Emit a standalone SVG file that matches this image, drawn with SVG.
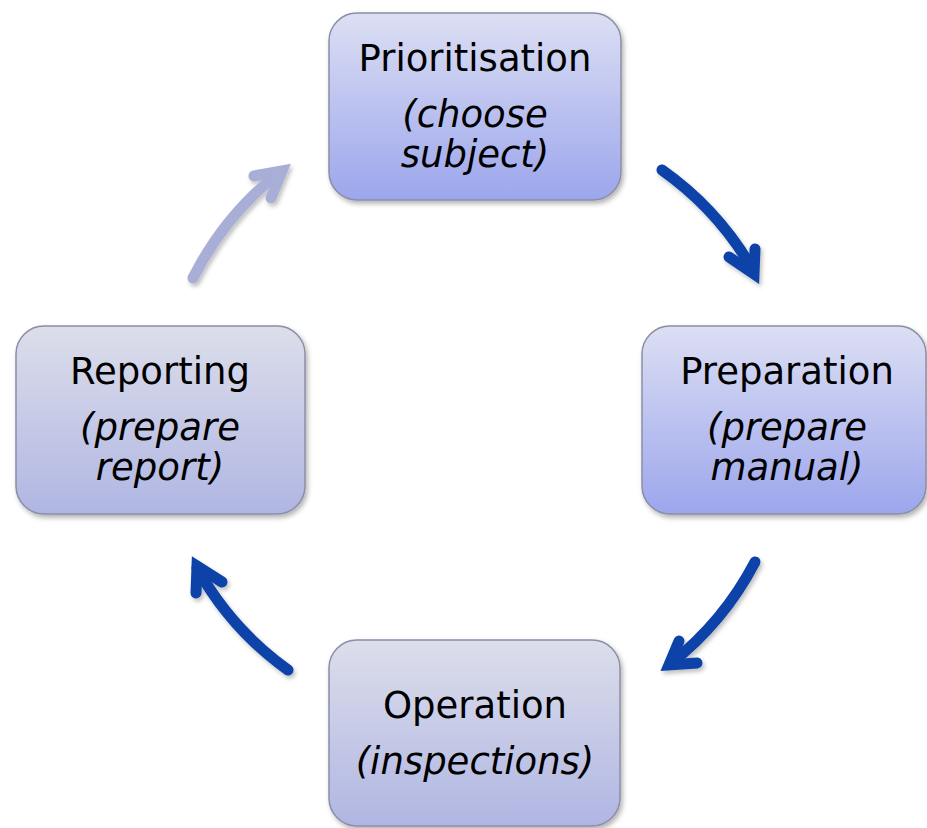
<svg xmlns="http://www.w3.org/2000/svg" width="927" height="828" viewBox="0 0 927 828">
<defs>
<linearGradient id="gBlue" x1="0" y1="0" x2="0" y2="1">
<stop offset="0" stop-color="#dcdff3"/>
<stop offset="1" stop-color="#9ca6ec"/>
</linearGradient>
<linearGradient id="gGrey" x1="0" y1="0" x2="0" y2="1">
<stop offset="0" stop-color="#dcdeea"/>
<stop offset="1" stop-color="#b0b6e3"/>
</linearGradient>
<filter id="sh" x="-10%" y="-10%" width="125%" height="125%">
<feDropShadow dx="2" dy="3" stdDeviation="2.5" flood-color="#000" flood-opacity="0.3"/>
</filter>
<filter id="ash" x="-20%" y="-20%" width="150%" height="150%">
<feDropShadow dx="2" dy="3" stdDeviation="2" flood-color="#000" flood-opacity="0.25"/>
</filter>
</defs>
<style>
.box{stroke:#8a8ea6;stroke-width:1.5;filter:url(#sh)}
.t{font-family:"DejaVu Sans","Verdana",sans-serif;font-size:37px;fill:#000;text-anchor:middle}
.i{font-style:italic}
.arr{fill:none;stroke-width:11;stroke-linecap:round;stroke-linejoin:miter;filter:url(#ash)}
.dark{stroke:#0b42a8}
.light{stroke:#a8aed6}
</style>
<rect width="927" height="828" fill="#fff"/>
<g id="connectors">
<g class="arr dark">
<path d="M662,170 A313,313 0 0 1 753,270"/>
<path d="M729,257 L754,274 L755,249"/>
</g>
<g class="arr dark">
<path d="M755,562 A313,313 0 0 1 670,664"/>
<path d="M679,641 L669,665 L697,663"/>
</g>
<g class="arr dark">
<path d="M288,670 A313,313 0 0 1 197,568"/>
<path d="M196,593 L197,566 L222,582"/>
</g>
<g class="arr light">
<path d="M193,278 A313,313 0 0 1 280,172"/>
<path d="M254,176 L282,171 L271,198"/>
</g>
</g>
<g id="prioritisation">
<rect class="box" x="329" y="13" width="292" height="187" rx="28" fill="url(#gBlue)"/>
<text class="t" x="475" y="71">Prioritisation</text>
<text class="t i" x="475" y="127">(choose</text>
<text class="t i" x="475" y="167">subject)</text>
</g>
<g id="preparation">
<rect class="box" x="642" y="326" width="284" height="188" rx="28" fill="url(#gBlue)"/>
<text class="t" x="787" y="384">Preparation</text>
<text class="t i" x="787" y="440">(prepare</text>
<text class="t i" x="787" y="480">manual)</text>
</g>
<g id="operation">
<rect class="box" x="329" y="640" width="291" height="186" rx="28" fill="url(#gGrey)"/>
<text class="t" x="475" y="718">Operation</text>
<text class="t i" x="475" y="774">(inspections)</text>
</g>
<g id="reporting">
<rect class="box" x="16" y="326" width="289" height="188" rx="28" fill="url(#gGrey)"/>
<text class="t" x="160" y="384">Reporting</text>
<text class="t i" x="160" y="440">(prepare</text>
<text class="t i" x="160" y="480">report)</text>
</g>
</svg>
